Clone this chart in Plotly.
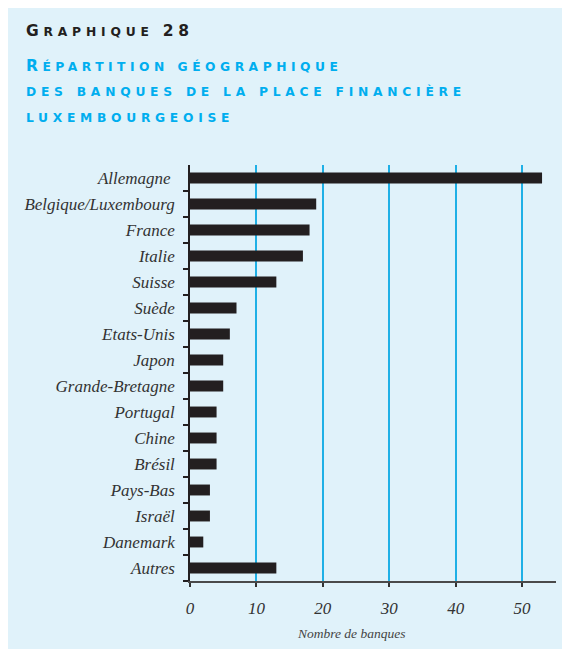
import plotly.graph_objects as go

categories = ["Allemagne", "Belgique/Luxembourg", "France", "Italie", "Suisse", "Suède",
              "Etats-Unis", "Japon", "Grande-Bretagne", "Portugal", "Chine", "Brésil",
              "Pays-Bas", "Israël", "Danemark", "Autres"]
banks = [53, 19, 18, 17, 13, 7, 6, 5, 5, 4, 4, 4, 3, 3, 2, 13]
x_ticks = [0, 10, 20, 30, 40, 50]

W, H = 562, 641
L, R, T, B = 182, 14, 157, 68
pw, ph = W - L - R, H - T - B

def px(x):
    return (x - L) / pw

def py(y):
    return (H - B - y) / ph

fig = go.Figure(go.Bar(
    x=banks, y=categories, orientation="h",
    marker=dict(color="#231f20", line=dict(width=0)),
    width=0.42,
))

title_font = "DejaVu Sans, Verdana, sans-serif"
serif = "Liberation Serif, Times New Roman, serif"

def line(text, y_base, color, spacing, big=15.5, small=12.3, first_big=False, tail_big=None):
    body = text
    if first_big:
        rest = text[1:-len(tail_big)] if tail_big else text[1:]
        body = f"{text[0]}<span style='font-size:{small}px'>{rest}</span>{tail_big or ''}"
    size = big if first_big else small
    return dict(text=f"<span style='letter-spacing:{spacing}px'>{body}</span>",
                x=px(16), y=py(y_base + 1 + 0.236 * size),
                xref="paper", yref="paper", xanchor="left", yanchor="bottom", showarrow=False,
                font=dict(family=title_font, size=size, color=color, weight="bold"))

annotations = [
    line("GRAPHIQUE 28", 29.3, "#231f20", 4.8, first_big=True, tail_big="28"),
    line("RÉPARTITION GÉOGRAPHIQUE", 64, "#00aeef", 4.5, first_big=True),
    line("DES BANQUES DE LA PLACE FINANCIÈRE", 89.3, "#00aeef", 4.75),
    line("LUXEMBOURGEOISE", 115.3, "#00aeef", 4.7),
    dict(text="<i>Nombre de banques</i>", x=px(343), y=py(625),
         xref="paper", yref="paper", xanchor="center", yanchor="middle", showarrow=False,
         font=dict(family=serif, size=13.5, color="#444")),
]

ytext = [f"<i>{c}</i>" + ("\u00a0" if c == "Allemagne" else "") for c in categories]

fig.update_layout(
    width=W, height=H,
    margin=dict(l=L, r=R, t=T, b=B, pad=0),
    paper_bgcolor="#e0f2fa",
    plot_bgcolor="rgba(0,0,0,0)",
    showlegend=False,
    annotations=annotations,
    xaxis=dict(range=[0, 55.1], tickvals=x_ticks, ticktext=[f"<i>{v}</i>" for v in x_ticks],
               showgrid=True, gridcolor="#1fb0e6", gridwidth=1.5,
               zeroline=False, showline=True, linecolor="#4a4a4a", linewidth=1.5,
               ticks="outside", ticklen=4, tickcolor="#333", tickwidth=1.5,
               ticklabelstandoff=7,
               tickfont=dict(family=serif, size=17, color="#333"),
               fixedrange=True),
    yaxis=dict(categoryorder="array", categoryarray=categories[::-1],
               tickvals=categories, ticktext=ytext,
               range=[-0.5, len(categories) - 0.5],
               showline=True, linecolor="#231f20", linewidth=1.5,
               ticks="outside", tickson="boundaries", ticklen=5, tickcolor="#231f20", tickwidth=1.5,
               ticklabelstandoff=10,
               showgrid=False, zeroline=False,
               tickfont=dict(family=serif, size=17, color="#333"),
               fixedrange=True),
    bargap=0.58,
)

fig.write_html("out.html")
